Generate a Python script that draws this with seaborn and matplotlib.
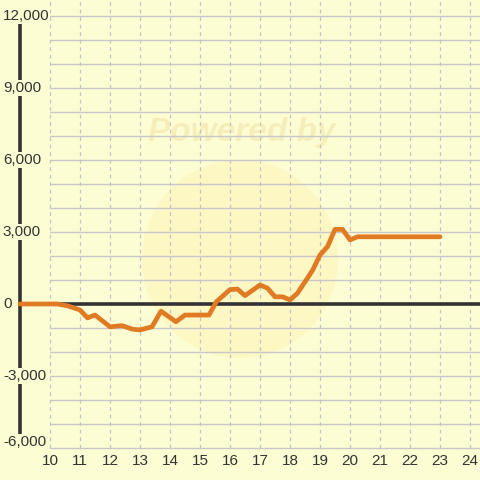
import numpy as np
import pandas as pd
import matplotlib
matplotlib.use("Agg")
import matplotlib.pyplot as plt
from matplotlib.patches import Ellipse
import seaborn as sns

# series
hours = [9.0, 10.25, 10.6, 11.0, 11.25, 11.5, 12.0, 12.4, 12.75, 13.0, 13.4, 13.7,
         14.2, 14.5, 15.3, 15.55, 16.0, 16.25, 16.5, 17.0, 17.25, 17.5, 17.75, 18.0,
         18.25, 18.75, 19.0, 19.25, 19.5, 19.75, 20.0, 20.25, 23.0]
values = [0, 0, -80, -250, -580, -460, -950, -900, -1050, -1080, -950, -300,
          -740, -460, -460, 100, 600, 620, 350, 790, 660, 300, 300, 170,
          450, 1400, 2040, 2390, 3110, 3110, 2670, 2800, 2800]
x_ticks = list(range(10, 25))
y_ticks = [-6000, -3000, 0, 3000, 6000, 9000, 12000]

df = pd.DataFrame({"hour": hours, "value": values})

bg = "#fdfdd3"
txt = "#333333"

sns.set_theme(style="white")
plt.rcParams['font.family'] = ['Liberation Sans', 'DejaVu Sans']

fig = plt.figure(figsize=(4.8, 4.8), dpi=100, facecolor=bg)
ax = fig.add_axes([0, 0, 1, 1])
ax.set_facecolor(bg)

# faint watermark
ax.add_patch(Ellipse((16.33, 1875), 6.53, 8250, facecolor="#fbf0b0", alpha=0.45,
                     edgecolor="none", zorder=1))
ax.text(16.4, 7125, "Powered by", fontsize=24, fontweight="bold", style="italic",
        color="#f3e9b0", alpha=0.7, ha="center", va="center", zorder=1)

# grid
for yv in range(-6000, 12001, 1000):
    ax.plot([10, 24.4], [yv, yv], color="#c8c8cc", lw=1.0, zorder=2)
ax.vlines(x_ticks, -6000, 13000, colors="#c4c4c4", lw=0.9,
          linestyles=(0, (3, 3)), zorder=2)

# axes lines
ax.plot([9.0, 24.4], [0, 0], color=txt, lw=2.6, zorder=3, solid_capstyle="butt")
ax.plot([9.0, 9.0], [-6000, 11700], color=txt, lw=2.6, zorder=3, solid_capstyle="butt")

sns.lineplot(data=df, x="hour", y="value", color="#e07b24", lw=3.4, ax=ax, zorder=4)

ax.set_xlim(10 - 50 / 30, 10 + 430 / 30)
ax.set_ylim((304 - 480) * 1000 / 24, 304 * 1000 / 24)
ax.axis("off")

for yv in y_ticks:
    yy = yv if yv > -6000 else -5750
    ax.text(8.43, yy, f"{yv:,}", ha="left", va="center", fontsize=11, color=txt,
            zorder=5, bbox=dict(facecolor=bg, edgecolor="none", pad=0.5))
for xv in x_ticks:
    ax.text(xv, -6540, str(xv), ha="center", va="center", fontsize=11, color=txt, zorder=5)

fig.savefig("out.png", dpi=100, facecolor=bg)
